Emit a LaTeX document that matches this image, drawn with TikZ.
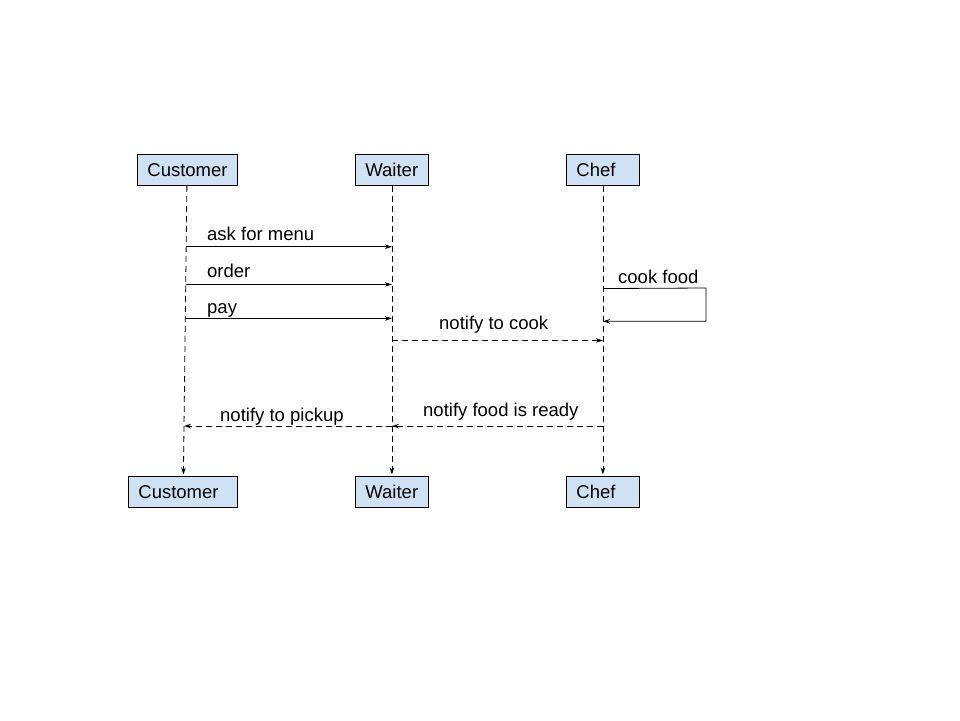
\documentclass[tikz,border=0pt]{standalone}
\usepackage{fontspec}
\setmainfont{Liberation Sans}
\usetikzlibrary{arrows.meta}
\definecolor{boxblue}{HTML}{CFE2F3}
\begin{document}
\begin{tikzpicture}[x=1pt,y=-1pt,
  font=\fontsize{18.5}{22}\selectfont,
  actor/.style={draw=black,line width=0.8pt,fill=boxblue,rectangle,anchor=north west,
    minimum height=31pt,inner xsep=10pt,inner ysep=0pt,align=left},
  life/.style={line width=0.8pt,dash pattern=on 6pt off 4pt,-{Stealth[length=7pt,width=4.5pt]},shorten >=1.5pt},
  msg/.style={line width=0.8pt,-{Stealth[length=7pt,width=4.5pt]}},
  dmsg/.style={msg,dash pattern=on 6pt off 4pt},
  lbl/.style={anchor=base west,inner sep=0pt}]
\useasboundingbox (0,0) rectangle (960,720);
% actors top
\node[actor,minimum width=100pt,text width=80pt] (ct) at (137,154) {Customer};
\node[actor,minimum width=73pt,text width=53pt] (wt) at (355,154) {Waiter};
\node[actor,minimum width=73pt,text width=53pt] (ht) at (566,154) {Chef};
% actors bottom
\node[actor,minimum width=109pt,text width=89pt] (cb) at (128,476) {Customer};
\node[actor,minimum width=73pt,text width=53pt] (wb) at (355,476) {Waiter};
\node[actor,minimum width=73pt,text width=53pt] (hb) at (566,476) {Chef};
% lifelines with coordinates
\coordinate (ctop) at ([xshift=-0.5pt]ct.south);
\coordinate (cbot) at ([xshift=0.5pt]cb.north);
\draw[life] (ctop) -- (cbot)
  coordinate[pos=0.210] (c1) coordinate[pos=0.340] (c2) coordinate[pos=0.457] (c3)
  coordinate[pos=0.828] (c7);
\draw[life] (wt.south) -- (wb.north)
  coordinate[pos=0.210] (w1) coordinate[pos=0.340] (w2) coordinate[pos=0.457] (w3)
  coordinate[pos=0.533] (w6) coordinate[pos=0.828] (w7);
\draw[life] (ht.south) -- (hb.north)
  coordinate[pos=0.354] (h4) coordinate[pos=0.467] (h5)
  coordinate[pos=0.533] (h6) coordinate[pos=0.828] (h7);
% messages
\draw[msg] (c1) -- (w1);
\draw[msg] (c2) -- (w2);
\draw[msg] (c3) -- (w3);
\coordinate (loop) at (706,288);
\draw[msg] (h4) -- (loop) |- (h5);
\draw[dmsg] (w6) -- (h6);
\draw[dmsg] (h7) -- (w7);
\draw[dmsg] (w7) -- (c7);
% labels
\node[lbl] (l1) at (207,240) {ask for menu};
\node[lbl] (l2) at (207,277) {order};
\node[lbl] (l3) at (207,313) {pay};
\node[lbl] (l4) at (618,283) {cook food};
\node[lbl] (l5) at (439,329) {notify to cook};
\node[lbl] (l6) at (423,416) {notify food is ready};
\node[lbl] (l7) at (220,421) {notify to pickup};
\end{tikzpicture}
\end{document}
